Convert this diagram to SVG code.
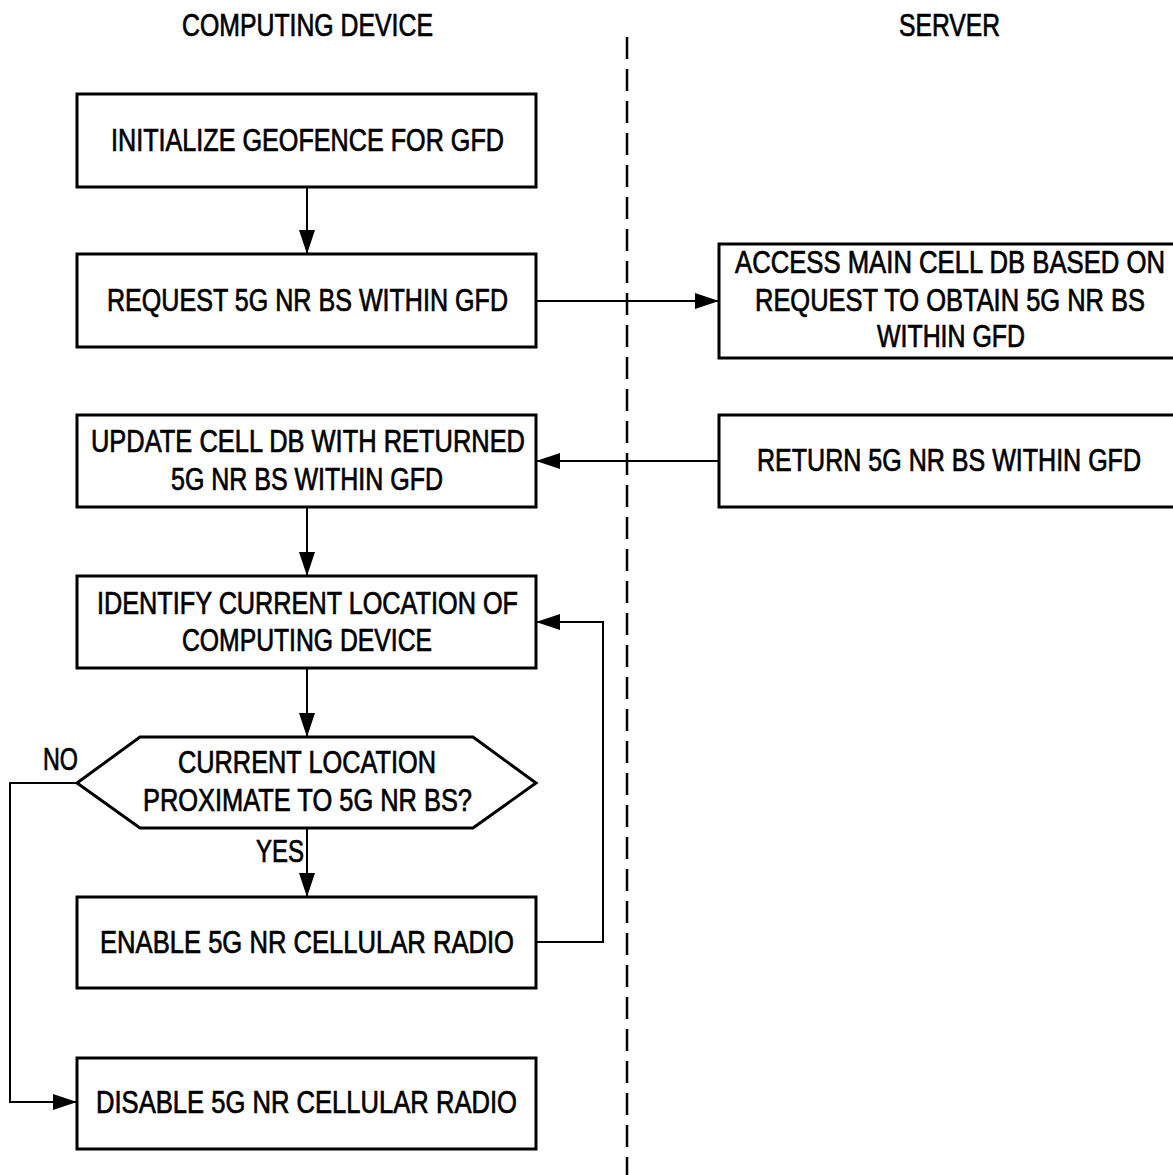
<svg xmlns="http://www.w3.org/2000/svg" width="1173" height="1175" viewBox="0 0 1173 1175">
<style>
.box{fill:#fff;stroke:#000;stroke-width:3}
.t{font-family:"Liberation Sans Narrow","Liberation Sans",Arial,sans-serif;font-size:30.5px;fill:#000;stroke:#000;stroke-width:0.7;text-anchor:middle}
.c{fill:none;stroke:#000;stroke-width:2}
.lane{fill:none;stroke:#000;stroke-width:2.5;stroke-dasharray:22 10}
</style>
<defs>
<marker id="arr" markerUnits="userSpaceOnUse" markerWidth="24" markerHeight="16" refX="24" refY="8" orient="auto">
<path d="M0,0 L24,8 L0,16 z" fill="#000"/>
</marker>
</defs>
<rect width="1173" height="1175" fill="#fff"/>
<g id="lanes">
<text class="t" x="307.5" y="36" textLength="251" lengthAdjust="spacingAndGlyphs">COMPUTING DEVICE</text>
<text class="t" x="949.5" y="36" textLength="101" lengthAdjust="spacingAndGlyphs">SERVER</text>
<line class="lane" x1="627" y1="37" x2="627" y2="1175"/>
</g>
<g id="connectors">
<line class="c" x1="307" y1="187" x2="307" y2="254" marker-end="url(#arr)"/>
<line class="c" x1="536" y1="301" x2="719" y2="301" marker-end="url(#arr)"/>
<line class="c" x1="719" y1="461" x2="536" y2="461" marker-end="url(#arr)"/>
<line class="c" x1="307" y1="507" x2="307" y2="576" marker-end="url(#arr)"/>
<line class="c" x1="307" y1="668" x2="307" y2="737" marker-end="url(#arr)"/>
<line class="c" x1="307" y1="828" x2="307" y2="897" marker-end="url(#arr)"/>
<polyline class="c" points="536,942 603,942 603,622 536,622" marker-end="url(#arr)"/>
<polyline class="c" points="77,783 10,783 10,1102 77,1102" marker-end="url(#arr)"/>
<text class="t" x="60.5" y="770" textLength="35" lengthAdjust="spacingAndGlyphs">NO</text>
<text class="t" x="280" y="862" textLength="48" lengthAdjust="spacingAndGlyphs">YES</text>
</g>
<g id="n1">
<rect class="box" x="77" y="94" width="459" height="93"/>
<text class="t" x="307.5" y="151" textLength="393" lengthAdjust="spacingAndGlyphs">INITIALIZE GEOFENCE FOR GFD</text>
</g>
<g id="n2">
<rect class="box" x="77" y="254" width="459" height="93"/>
<text class="t" x="307.5" y="311" textLength="401" lengthAdjust="spacingAndGlyphs">REQUEST 5G NR BS WITHIN GFD</text>
</g>
<g id="n3">
<rect class="box" x="719" y="244" width="464" height="114"/>
<text class="t" x="950" y="273" textLength="430" lengthAdjust="spacingAndGlyphs">ACCESS MAIN CELL DB BASED ON</text>
<text class="t" x="950" y="311" textLength="390" lengthAdjust="spacingAndGlyphs">REQUEST TO OBTAIN 5G NR BS</text>
<text class="t" x="951" y="347" textLength="148" lengthAdjust="spacingAndGlyphs">WITHIN GFD</text>
</g>
<g id="n4">
<rect class="box" x="719" y="415" width="464" height="92"/>
<text class="t" x="949" y="471" textLength="384" lengthAdjust="spacingAndGlyphs">RETURN 5G NR BS WITHIN GFD</text>
</g>
<g id="n5">
<rect class="box" x="77" y="415" width="459" height="92"/>
<text class="t" x="308" y="452" textLength="434" lengthAdjust="spacingAndGlyphs">UPDATE CELL DB WITH RETURNED</text>
<text class="t" x="307" y="490" textLength="272" lengthAdjust="spacingAndGlyphs">5G NR BS WITHIN GFD</text>
</g>
<g id="n6">
<rect class="box" x="77" y="576" width="459" height="92"/>
<text class="t" x="307.5" y="614" textLength="421" lengthAdjust="spacingAndGlyphs">IDENTIFY CURRENT LOCATION OF</text>
<text class="t" x="307" y="651" textLength="250" lengthAdjust="spacingAndGlyphs">COMPUTING DEVICE</text>
</g>
<g id="n7">
<polygon class="box" points="77,783 140,737 473,737 536,783 473,828 140,828"/>
<text class="t" x="307" y="773" textLength="258" lengthAdjust="spacingAndGlyphs">CURRENT LOCATION</text>
<text class="t" x="307.5" y="811" textLength="329" lengthAdjust="spacingAndGlyphs">PROXIMATE TO 5G NR BS?</text>
</g>
<g id="n8">
<rect class="box" x="77" y="897" width="459" height="91"/>
<text class="t" x="307" y="953" textLength="414" lengthAdjust="spacingAndGlyphs">ENABLE 5G NR CELLULAR RADIO</text>
</g>
<g id="n9">
<rect class="box" x="77" y="1058" width="459" height="91"/>
<text class="t" x="306.5" y="1113" textLength="421" lengthAdjust="spacingAndGlyphs">DISABLE 5G NR CELLULAR RADIO</text>
</g>
</svg>
